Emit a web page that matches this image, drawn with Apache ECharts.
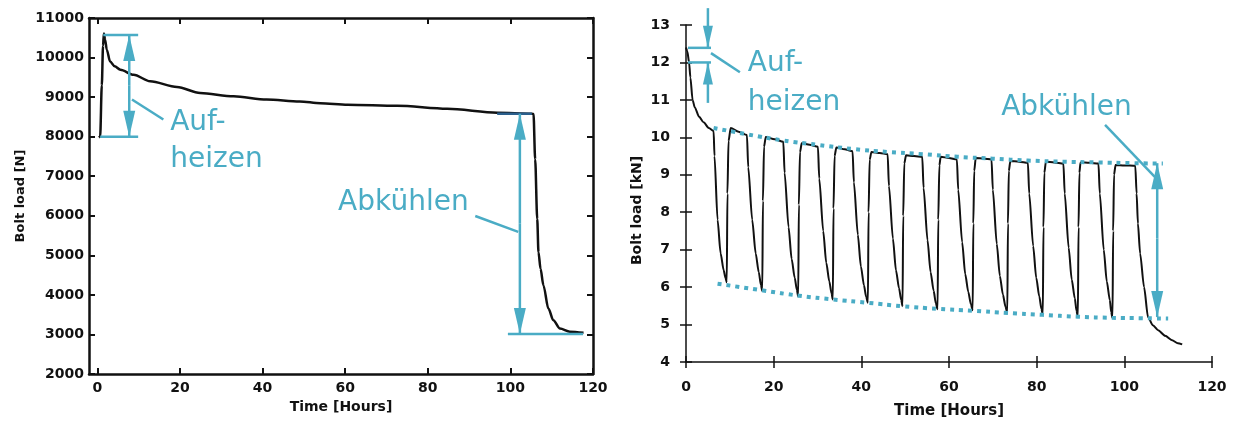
<!DOCTYPE html>
<html>
<head>
<meta charset="utf-8">
<script src="https://cdn.jsdelivr.net/npm/echarts@6/dist/echarts.min.js"></script>
<style>
html, body { margin: 0; padding: 0; background: #fff; }
#main { width: 1235px; height: 428px; }
</style>
</head>
<body>
<div id="main"></div>
<script>
var cyan = '#4aacc5';
var ink = '#111';

// linke Grafik: Schraubenkraft [N] über Zeit [h]
var leftTicks = [0, 20, 40, 60, 80, 100, 120];
var leftLoad = [
    [0.4, 7980], [0.7, 8000], [1.1, 9300], [1.4, 10300], [1.6, 10610], [1.9, 10450],
    [2.3, 10200], [3.1, 9900], [4.2, 9780], [5.6, 9690], [8.8, 9565], [12.8, 9400],
    [19.3, 9256], [24.9, 9105], [33, 9020], [41, 8940], [49, 8890], [54, 8845],
    [60.6, 8810], [72.6, 8780], [84.7, 8705], [96.8, 8605], [105.2, 8580], [105.6, 8570],
    [106, 7430], [106.5, 5920], [106.8, 5080], [107.3, 4660], [108, 4240], [109.2, 3655],
    [110.4, 3360], [112, 3150], [114.4, 3070], [117.7, 3040]
];

// rechte Grafik: Schraubenkraft [kN] bei zyklischer Temperatur
var rightLoad = [
    [0, 12.4], [0.3, 12.3], [0.7, 12.0], [1.0, 11.6], [1.5, 11.0], [2.0, 10.8], [3.0, 10.55],
    [4.0, 10.4], [5.2, 10.25], [6.3, 10.17],
    [6.5, 9.5], [7.2, 7.8], [7.9, 6.9], [8.6, 6.45], [9.0, 6.25], [9.3, 6.13],
    [9.45, 8.5], [9.7, 9.9], [10.2, 10.25], [12, 10.15], [13.9, 10.06],
    [14.2, 9.2], [15.1, 7.8], [15.9, 6.9], [16.6, 6.4], [17.1, 6.05], [17.4, 5.90],
    [17.55, 8.3], [17.8, 9.75], [18.2, 10.01], [20.2, 9.95], [22.2, 9.88],
    [22.5, 9.05], [23.4, 7.6], [24.1, 6.75], [24.8, 6.25], [25.3, 5.92], [25.6, 5.75],
    [25.75, 8.2], [26.0, 9.6], [26.4, 9.84], [28.2, 9.8], [30.1, 9.75],
    [30.4, 8.9], [31.3, 7.5], [32.0, 6.65], [32.7, 6.15], [33.2, 5.83], [33.5, 5.67],
    [33.65, 8.1], [33.9, 9.5], [34.3, 9.73], [36.2, 9.68], [38.0, 9.63],
    [38.3, 8.8], [39.2, 7.4], [39.9, 6.55], [40.6, 6.05], [41.1, 5.74], [41.5, 5.58],
    [41.65, 8.0], [41.9, 9.4], [42.3, 9.61], [44.2, 9.58], [46.0, 9.55],
    [46.3, 8.7], [47.2, 7.3], [47.9, 6.45], [48.6, 5.97], [49.1, 5.65], [49.4, 5.49],
    [49.55, 7.9], [49.8, 9.3], [50.2, 9.52], [52, 9.5], [53.9, 9.48],
    [54.2, 8.65], [55.1, 7.25], [55.8, 6.4], [56.5, 5.9], [57.0, 5.57], [57.4, 5.41],
    [57.55, 7.8], [57.8, 9.25], [58.1, 9.48], [60, 9.45], [61.8, 9.41],
    [62.1, 8.6], [63.0, 7.2], [63.7, 6.35], [64.4, 5.87], [65.0, 5.54], [65.4, 5.38],
    [65.55, 7.7], [65.75, 9.1], [66.1, 9.45], [68, 9.43], [69.7, 9.41],
    [70.0, 8.6], [70.9, 7.15], [71.6, 6.3], [72.3, 5.8], [72.9, 5.47], [73.3, 5.31],
    [73.45, 7.7], [73.65, 9.1], [74.0, 9.37], [76, 9.35], [78.0, 9.32],
    [78.3, 8.5], [79.2, 7.1], [79.9, 6.25], [80.6, 5.75], [81.1, 5.41], [81.4, 5.25],
    [81.55, 7.6], [81.75, 9.05], [82.1, 9.35], [84, 9.33], [86.1, 9.30],
    [86.4, 8.5], [87.3, 7.05], [88.0, 6.2], [88.7, 5.7], [89.1, 5.36], [89.4, 5.20],
    [89.55, 7.6], [89.75, 9.05], [90.0, 9.33], [92, 9.32], [94.1, 9.30],
    [94.4, 8.5], [95.3, 7.0], [96.0, 6.15], [96.7, 5.65], [97.0, 5.33], [97.3, 5.17],
    [97.45, 7.5], [97.65, 9.0], [98.0, 9.26], [100, 9.25], [102.5, 9.24],
    [102.8, 8.5], [103.1, 7.7], [103.6, 6.9], [104.5, 6.0], [105.4, 5.2], [106.5, 4.98],
    [107.7, 4.85], [109.3, 4.7], [110.9, 4.58], [112.2, 4.5], [113.2, 4.47]
];
// Hüllkurven (gepunktet)
var rightUpper = [
    [6.3, 10.25], [14, 10.08], [22, 9.92], [30, 9.8], [38, 9.69], [46, 9.61], [54, 9.55],
    [62, 9.48], [70, 9.43], [78, 9.38], [86, 9.35], [94, 9.33], [102, 9.31], [108.8, 9.30]
];
var rightLower = [
    [7.2, 6.09], [17.6, 5.91], [25.8, 5.77], [33.5, 5.67], [41.6, 5.58], [49.3, 5.49],
    [57.5, 5.42], [65.4, 5.37], [73.3, 5.31], [81.4, 5.26], [89.3, 5.21], [97.2, 5.18],
    [104, 5.17], [110, 5.16]
];

// Beschriftungen / Pfeile in Datenkoordinaten
var leftMarks = [
    { from: [1.45, 10570], to: [9.9, 10570] },
    { from: [0.7, 8000], to: [9.9, 8000] },
    { from: [7.74, 9300], to: [7.74, 10570], head: true },
    { from: [7.74, 9300], to: [7.74, 8000], head: true },
    { from: [8.4, 8938], to: [16.0, 8435] },
    { text: 'Auf-\nheizen', at: [17.66, 7878], lh: 37 },
    { from: [96.8, 8580], to: [105.2, 8580], color: '#2b5f8c' },
    { from: [99.4, 3010], to: [117.6, 3010] },
    { from: [102.3, 5800], to: [102.3, 8580], head: true },
    { from: [102.3, 5800], to: [102.3, 3010], head: true },
    { from: [91.5, 5995], to: [101.9, 5593] },
    { text: 'Abkühlen', at: [58.3, 6323] }
];
var rightMarks = [
    { from: [0.45, 12.39], to: [5.7, 12.39] },
    { from: [0.45, 12.0], to: [5.7, 12.0] },
    { from: [5.0, 13.45], to: [5.0, 12.39], head: true, hl: 22, hw: 10 },
    { from: [5.0, 10.92], to: [5.0, 12.0], head: true, hl: 22, hw: 10 },
    { from: [5.7, 12.25], to: [12.3, 11.74] },
    { text: 'Auf-\nheizen', at: [14.1, 11.44], lh: 39 },
    { from: [107.5, 7.3], to: [107.5, 9.31], head: true },
    { from: [107.5, 7.3], to: [107.5, 5.2], head: true },
    { from: [95.6, 10.33], to: [107.0, 8.94] },
    { text: 'Abkühlen', at: [71.9, 10.78] }
];

function drawMarks(marks) {
    return function (params, api) {
        var m = marks[params.dataIndex];
        if (m.text) {
            var p = api.coord(m.at);
            return {
                type: 'text', x: p[0], y: p[1],
                style: {
                    text: m.text, fill: cyan, fontSize: 28, fontFamily: 'DejaVu Sans',
                    align: 'left', verticalAlign: 'middle', lineHeight: m.lh || 34
                }
            };
        }
        var a = api.coord(m.from), b = api.coord(m.to);
        var kids = [{
            type: 'line',
            shape: { x1: a[0], y1: a[1], x2: b[0], y2: b[1] },
            style: { stroke: m.color || cyan, lineWidth: 2.5 }
        }];
        if (m.head) {
            var dx = b[0] - a[0], dy = b[1] - a[1];
            var len = Math.sqrt(dx * dx + dy * dy) || 1;
            dx /= len; dy /= len;
            var L = m.hl || 26, W = m.hw || 12;
            var bx = b[0] - dx * L, by = b[1] - dy * L;
            kids.push({
                type: 'polygon',
                shape: { points: [[b[0], b[1]], [bx - dy * W / 2, by + dx * W / 2], [bx + dy * W / 2, by - dx * W / 2]] },
                style: { fill: cyan }
            });
        }
        return { type: 'group', children: kids };
    };
}

var tickFont = { color: ink, fontFamily: 'DejaVu Sans', fontWeight: 'bold', fontSize: 14 };
var thick = { color: ink, width: 2.5 };
var thin = { color: ink, width: 1.5 };
var hidden = { color: 'rgba(0,0,0,0)', width: 1 };
var plain = function (v) { return String(v); };

var myChart = echarts.init(document.getElementById('main'));

var option = {
    animation: false,
    backgroundColor: '#fff',
    grid: [
        { left: 89, top: 18, width: 504, height: 356 },
        { left: 686, top: 25, width: 526, height: 337 },
        { left: 686, top: 25, width: 526, height: 337 }
    ],
    xAxis: [
        {
            gridIndex: 0, type: 'value', min: -2, max: 120, position: 'bottom',
            name: 'Time [Hours]', nameLocation: 'middle', nameGap: 26,
            nameTextStyle: tickFont,
            axisLine: { onZero: false, lineStyle: thick },
            axisTick: { inside: true, length: 6, lineStyle: { width: 2 }, customValues: leftTicks },
            axisLabel: Object.assign({ margin: 7, customValues: leftTicks, formatter: plain }, tickFont),
            splitLine: { show: false }
        },
        {
            gridIndex: 0, type: 'value', min: -2, max: 120, position: 'top',
            axisLine: { onZero: false, lineStyle: thick },
            axisTick: { inside: true, length: 6, lineStyle: { width: 2 }, customValues: leftTicks },
            axisLabel: { show: false },
            splitLine: { show: false }
        },
        {
            gridIndex: 1, type: 'value', min: 0, max: 120, interval: 20, position: 'bottom',
            name: 'Time [Hours]', nameLocation: 'middle', nameGap: 42,
            nameTextStyle: Object.assign({}, tickFont, { fontSize: 15 }),
            axisLine: { onZero: false, lineStyle: thin },
            axisTick: { length: 6, lineStyle: { width: 1.5 } },
            axisLabel: Object.assign({ margin: 18, formatter: plain }, tickFont),
            splitLine: { show: false }
        },
        {
            // zweite Achse nur für die nach innen zeigenden Striche (Kreuz-Ticks)
            gridIndex: 2, type: 'value', min: 0, max: 120, interval: 20, position: 'bottom',
            axisLine: { show: true, onZero: false, lineStyle: hidden },
            axisTick: { show: true, inside: true, length: 6, lineStyle: { color: ink, width: 1.5 } },
            axisLabel: { show: false },
            splitLine: { show: false }
        }
    ],
    yAxis: [
        {
            gridIndex: 0, type: 'value', min: 2000, max: 11000, interval: 1000, position: 'left',
            name: 'Bolt load [N]', nameLocation: 'middle', nameGap: 62,
            nameTextStyle: Object.assign({}, tickFont, { fontSize: 13 }),
            axisLine: { show: true, onZero: false, lineStyle: thick },
            axisTick: { show: true, inside: true, length: 6, lineStyle: { width: 2 } },
            axisLabel: Object.assign({ margin: 5, formatter: plain }, tickFont),
            splitLine: { show: false }
        },
        {
            gridIndex: 0, type: 'value', min: 2000, max: 11000, interval: 1000, position: 'right',
            axisLine: { show: true, onZero: false, lineStyle: thick },
            axisTick: { show: true, inside: true, length: 6, lineStyle: { width: 2 } },
            axisLabel: { show: false },
            splitLine: { show: false }
        },
        {
            gridIndex: 1, type: 'value', min: 4, max: 13, interval: 1, position: 'left',
            name: 'Bolt load [kN]', nameLocation: 'middle', nameGap: 42,
            nameTextStyle: Object.assign({}, tickFont, { padding: [0, 34, 0, 0] }),
            axisLine: { show: true, onZero: false, lineStyle: thin },
            axisTick: { show: true, length: 6, lineStyle: { width: 1.5 } },
            axisLabel: Object.assign({ margin: 16, formatter: plain }, tickFont),
            splitLine: { show: false }
        },
        {
            gridIndex: 2, type: 'value', min: 4, max: 13, interval: 1, position: 'left',
            axisLine: { show: true, onZero: false, lineStyle: hidden },
            axisTick: { show: true, inside: true, length: 6, lineStyle: { color: ink, width: 1.5 } },
            axisLabel: { show: false },
            splitLine: { show: false }
        }
    ],
    series: [
        {
            name: 'Bolt load [N]', type: 'line', xAxisIndex: 0, yAxisIndex: 0,
            data: leftLoad, symbol: 'none', smooth: 0.3, smoothMonotone: 'x',
            lineStyle: { color: ink, width: 2.5 }, z: 3
        },
        {
            name: 'Bolt load [kN]', type: 'line', xAxisIndex: 2, yAxisIndex: 2,
            data: rightLoad, symbol: 'none', smooth: 0.25, smoothMonotone: 'x',
            lineStyle: { color: ink, width: 2 }, z: 3
        },
        {
            name: 'obere Hüllkurve', type: 'line', xAxisIndex: 2, yAxisIndex: 2,
            data: rightUpper, symbol: 'none', smooth: true,
            lineStyle: { color: cyan, width: 4, type: [4, 5], cap: 'butt' }, z: 4
        },
        {
            name: 'untere Hüllkurve', type: 'line', xAxisIndex: 2, yAxisIndex: 2,
            data: rightLower, symbol: 'none', smooth: true,
            lineStyle: { color: cyan, width: 4, type: [4, 5], cap: 'butt' }, z: 4
        },
        {
            type: 'custom', xAxisIndex: 0, yAxisIndex: 0, clip: false, z: 5,
            renderItem: drawMarks(leftMarks),
            data: leftMarks.map(function (m) { return (m.from || m.at).slice(); })
        },
        {
            type: 'custom', xAxisIndex: 2, yAxisIndex: 2, clip: false, z: 5,
            renderItem: drawMarks(rightMarks),
            data: rightMarks.map(function (m) { return (m.from || m.at).slice(); })
        }
    ]
};

myChart.setOption(option);
</script>
</body>
</html>
